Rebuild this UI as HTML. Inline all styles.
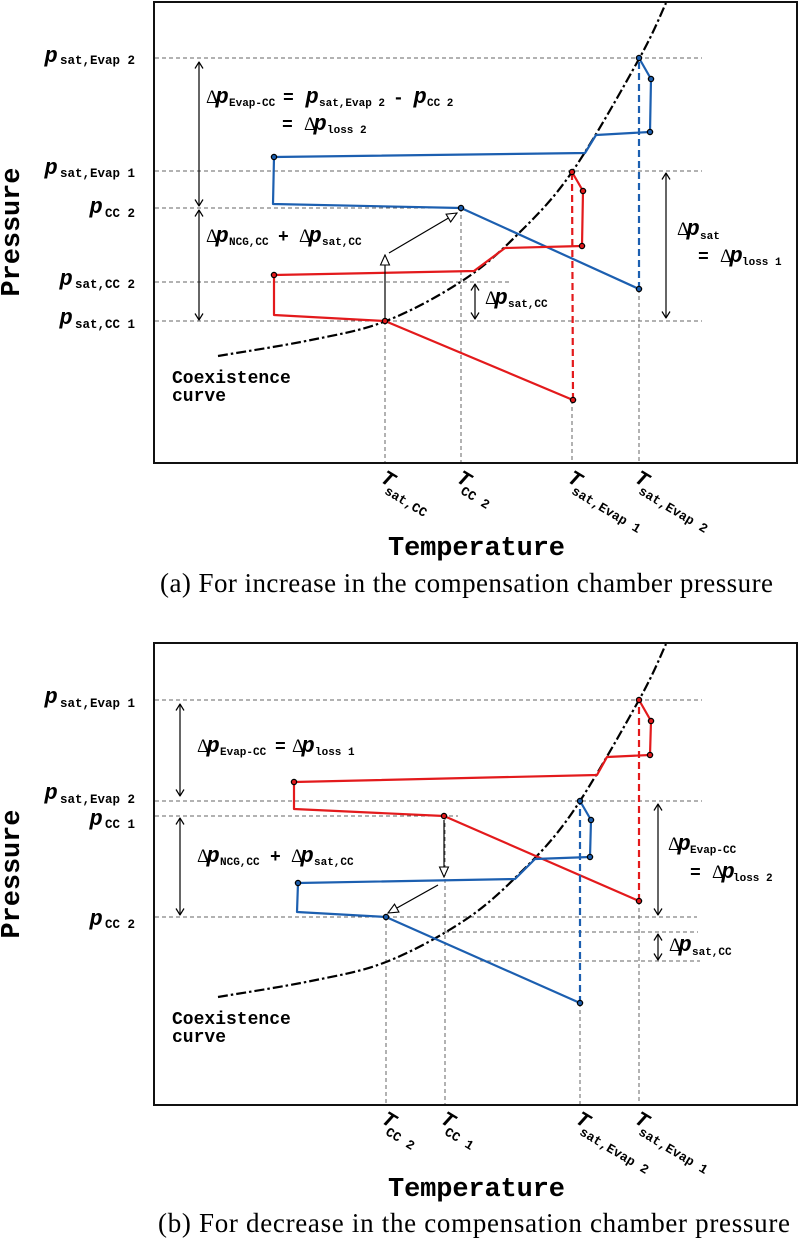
<!DOCTYPE html>
<html><head><meta charset="utf-8">
<style>
html,body{margin:0;padding:0;background:#fff;}
svg{display:block;}
.g{stroke:#666;stroke-width:1;stroke-dasharray:4 3;fill:none;}
.cv{stroke:#000;stroke-width:2.2;fill:none;stroke-dasharray:10 3 2.5 3;}
.r{stroke:#e31a1c;stroke-width:2.2;fill:none;stroke-linejoin:round;}
.b{stroke:#1c5fb0;stroke-width:2.2;fill:none;stroke-linejoin:round;}
.rd{stroke:#e31a1c;stroke-width:2.2;stroke-dasharray:7 4;}
.bd{stroke:#1c5fb0;stroke-width:2.2;stroke-dasharray:7 4;}
.dr{fill:#e31a1c;stroke:#000;stroke-width:1.3;}
.db{fill:#1c5fb0;stroke:#000;stroke-width:1.3;}
.ar{stroke:#000;stroke-width:1.2;fill:none;}
.d{font-family:"Liberation Serif",serif;font-size:19px;}
.p{font-family:"Liberation Mono",monospace;font-weight:bold;font-style:italic;font-size:22px;}
.s{font-family:"Liberation Mono",monospace;font-weight:bold;font-size:11px;}
.ls{font-family:"Liberation Mono",monospace;font-weight:bold;font-size:12.5px;}
.o{font-family:"Liberation Mono",monospace;font-weight:bold;font-size:18px;}
.T{font-family:"Liberation Mono",monospace;font-weight:bold;font-style:italic;font-size:21px;}
.ts{font-family:"Liberation Mono",monospace;font-weight:bold;font-size:13px;}
.ax{font-family:"Liberation Mono",monospace;font-weight:bold;font-size:27px;}
.co{font-family:"Liberation Mono",monospace;font-weight:bold;font-size:18px;}
.cap{font-family:"Liberation Serif",serif;font-size:27px;}
</style></head>
<body>
<svg width="800" height="1240" viewBox="0 0 800 1240" xmlns="http://www.w3.org/2000/svg">
<defs>
<marker id="ch" viewBox="0 0 10 10" refX="9.5" refY="5" markerWidth="10" markerHeight="10" markerUnits="userSpaceOnUse" orient="auto-start-reverse"><path d="M3,1 L9.5,5 L3,9" fill="none" stroke="#000" stroke-width="1.2"/></marker>
<marker id="tr" viewBox="0 0 12 12" refX="11" refY="6" markerWidth="12" markerHeight="12" markerUnits="userSpaceOnUse" orient="auto"><path d="M1,1.5 L11,6 L1,10.5 Z" fill="#fff" stroke="#000" stroke-width="1.1"/></marker>
<path id="curve" d="M218,356 C233.5,353.3 283,345.8 311,340 C339,334.2 360.8,330.8 386,321 C411.2,311.2 440.2,295.3 462,281 C483.8,266.7 498.7,253.2 517,235 C535.3,216.8 551.7,201.3 572,172 C592.3,142.7 623.3,87.2 639,59 C654.7,30.8 661.5,12.3 666,3"/>
</defs>

<!-- ================= TOP CHART ================= -->
<rect x="154" y="2" width="643" height="461" fill="none" stroke="#111" stroke-width="2"/>
<line class="g" x1="155" y1="58" x2="702" y2="58"/>
<line class="g" x1="155" y1="171" x2="702" y2="171"/>
<line class="g" x1="155" y1="208" x2="461" y2="208"/>
<line class="g" x1="155" y1="282" x2="512" y2="282"/>
<line class="g" x1="155" y1="321" x2="702" y2="321"/>
<line class="g" x1="385" y1="321" x2="385" y2="462"/>
<line class="g" x1="461" y1="208" x2="461" y2="462"/>
<line class="g" x1="572" y1="400" x2="572" y2="462"/>
<line class="g" x1="639" y1="289" x2="639" y2="462"/>

<use href="#curve" class="cv"/>

<polyline class="b" points="639,58 651,79 650,132 596,135 585,153 274,157 273,204 461,208 639,289"/>
<line class="bd" x1="639" y1="289" x2="639" y2="58"/>
<polyline class="r" points="572,172 583,191 582,246 505,248 474,271 274,275 274,315 385,321 573,400"/>
<line class="rd" x1="573" y1="400" x2="572" y2="172"/>

<g class="db">
<circle cx="639" cy="58" r="2.6"/><circle cx="651" cy="79" r="2.6"/><circle cx="650" cy="132" r="2.6"/>
<circle cx="274" cy="157" r="2.6"/><circle cx="461" cy="208" r="2.6"/><circle cx="639" cy="289" r="2.6"/>
</g>
<g class="dr">
<circle cx="572" cy="172" r="2.6"/><circle cx="583" cy="191" r="2.6"/><circle cx="582" cy="246" r="2.6"/>
<circle cx="274" cy="275" r="2.6"/><circle cx="385" cy="321" r="2.6"/><circle cx="573" cy="400" r="2.6"/>
</g>

<line class="ar" x1="199" y1="62" x2="199" y2="206" marker-start="url(#ch)" marker-end="url(#ch)"/>
<line class="ar" x1="199" y1="210" x2="199" y2="320" marker-start="url(#ch)" marker-end="url(#ch)"/>
<line class="ar" x1="666" y1="173" x2="666" y2="318" marker-start="url(#ch)" marker-end="url(#ch)"/>
<line class="ar" x1="475" y1="284" x2="475" y2="319" marker-start="url(#ch)" marker-end="url(#ch)"/>
<line class="ar" x1="385" y1="319" x2="385" y2="255" marker-end="url(#tr)"/>
<line class="ar" x1="389" y1="253" x2="457" y2="213" marker-end="url(#tr)"/>

<!-- annotations top -->
<text class="d" x="206" y="103">Δ</text><text class="p" x="215.5" y="103">p</text><text class="s" x="229" y="106">Evap-CC</text>
<text class="o" x="283" y="103">=</text>
<text class="p" x="305.5" y="103">p</text><text class="s" x="319" y="106">sat,Evap 2</text>
<text class="o" x="393" y="103">-</text>
<text class="p" x="413.5" y="103">p</text><text class="s" x="427" y="106">CC 2</text>

<text class="o" x="282" y="130">=</text>
<text class="d" x="304" y="130">Δ</text><text class="p" x="313.5" y="130">p</text><text class="s" x="327" y="133">loss 2</text>

<text class="d" x="206" y="242">Δ</text><text class="p" x="215.5" y="242">p</text><text class="s" x="229" y="245">NCG,CC</text>
<text class="o" x="278" y="242">+</text>
<text class="d" x="299" y="242">Δ</text><text class="p" x="308.5" y="242">p</text><text class="s" x="322" y="245">sat,CC</text>

<text class="d" x="677" y="235">Δ</text><text class="p" x="686.5" y="235">p</text><text class="s" x="700" y="239">sat</text>
<text class="o" x="698" y="262">=</text>
<text class="d" x="720" y="262">Δ</text><text class="p" x="729.5" y="262">p</text><text class="s" x="742" y="265">loss 1</text>

<text class="d" x="485" y="304">Δ</text><text class="p" x="494.5" y="304">p</text><text class="s" x="508" y="307">sat,CC</text>

<!-- y labels top -->
<text class="p" x="44.5" y="62">p</text><text class="ls" x="135" y="64" text-anchor="end">sat,Evap 2</text>
<text class="p" x="44.5" y="174">p</text><text class="ls" x="135" y="177" text-anchor="end">sat,Evap 1</text>
<text class="p" x="89.5" y="213">p</text><text class="ls" x="135" y="217" text-anchor="end">CC 2</text>
<text class="p" x="59.5" y="285">p</text><text class="ls" x="135" y="288" text-anchor="end">sat,CC 2</text>
<text class="p" x="59.5" y="324">p</text><text class="ls" x="135" y="328" text-anchor="end">sat,CC 1</text>

<text class="co" x="172" y="383">Coexistence</text>
<text class="co" x="172" y="401">curve</text>

<!-- T labels top -->
<g transform="translate(386,470) rotate(31)"><text class="T" x="0" y="13">T</text><text class="ts" x="10" y="21">sat,CC</text></g>
<g transform="translate(462,470) rotate(31)"><text class="T" x="0" y="13">T</text><text class="ts" x="10" y="21">CC 2</text></g>
<g transform="translate(573,470) rotate(31)"><text class="T" x="0" y="13">T</text><text class="ts" x="10" y="21">sat,Evap 1</text></g>
<g transform="translate(640,470) rotate(31)"><text class="T" x="0" y="13">T</text><text class="ts" x="10" y="21">sat,Evap 2</text></g>

<text class="ax" transform="translate(19,232) rotate(-90)" text-anchor="middle" textLength="129">Pressure</text>
<text class="ax" x="476.5" y="555" text-anchor="middle" textLength="177">Temperature</text>
<text class="cap" x="160" y="592" textLength="613">(a) For increase in the compensation chamber pressure</text>

<!-- ================= BOTTOM CHART ================= -->
<rect x="154" y="643" width="643" height="462" fill="none" stroke="#111" stroke-width="2"/>
<line class="g" x1="155" y1="700" x2="702" y2="700"/>
<line class="g" x1="155" y1="801" x2="702" y2="801"/>
<line class="g" x1="155" y1="816" x2="458" y2="816"/>
<line class="g" x1="155" y1="917" x2="697" y2="917"/>
<line class="g" x1="445" y1="932" x2="698" y2="932"/>
<line class="g" x1="396" y1="961" x2="700" y2="961"/>
<line class="g" x1="386" y1="917" x2="386" y2="1104"/>
<line class="g" x1="445" y1="816" x2="445" y2="1104"/>
<line class="g" x1="580" y1="1003" x2="580" y2="1104"/>
<line class="g" x1="639" y1="901" x2="639" y2="1104"/>

<use href="#curve" class="cv" transform="translate(0,641)"/>

<polyline class="r" points="639,700 651,721 650,755 607,757 597,775 294,782 294,809 444,816 639,901"/>
<line class="rd" x1="639" y1="901" x2="639" y2="700"/>
<polyline class="b" points="580,801 591,820 590,857 535,859 515,879 298,883 297,912 386,917 580,1003"/>
<line class="bd" x1="580" y1="1003" x2="580" y2="801"/>

<g class="dr">
<circle cx="639" cy="700" r="2.6"/><circle cx="651" cy="721" r="2.6"/><circle cx="650" cy="755" r="2.6"/>
<circle cx="294" cy="782" r="2.6"/><circle cx="444" cy="816" r="2.6"/><circle cx="639" cy="901" r="2.6"/>
</g>
<g class="db">
<circle cx="580" cy="801" r="2.6"/><circle cx="591" cy="820" r="2.6"/><circle cx="590" cy="857" r="2.6"/>
<circle cx="298" cy="883" r="2.6"/><circle cx="386" cy="917" r="2.6"/><circle cx="580" cy="1003" r="2.6"/>
</g>

<line class="ar" x1="180" y1="704" x2="180" y2="796" marker-start="url(#ch)" marker-end="url(#ch)"/>
<line class="ar" x1="180" y1="818" x2="180" y2="915" marker-start="url(#ch)" marker-end="url(#ch)"/>
<line class="ar" x1="658" y1="804" x2="658" y2="915" marker-start="url(#ch)" marker-end="url(#ch)"/>
<line class="ar" x1="658" y1="934" x2="658" y2="960" marker-start="url(#ch)" marker-end="url(#ch)"/>
<line class="ar" x1="444" y1="820" x2="444" y2="877" marker-end="url(#tr)"/>
<line class="ar" x1="438" y1="885" x2="388" y2="913" marker-end="url(#tr)"/>

<!-- annotations bottom -->
<text class="d" x="197" y="752">Δ</text><text class="p" x="206.5" y="752">p</text><text class="s" x="220" y="755">Evap-CC</text>
<text class="o" x="275" y="752">=</text>
<text class="d" x="292" y="752">Δ</text><text class="p" x="301.5" y="752">p</text><text class="s" x="315" y="755">loss 1</text>

<text class="d" x="197" y="862">Δ</text><text class="p" x="206.5" y="862">p</text><text class="s" x="220" y="865">NCG,CC</text>
<text class="o" x="270" y="862">+</text>
<text class="d" x="291" y="862">Δ</text><text class="p" x="300.5" y="862">p</text><text class="s" x="314" y="865">sat,CC</text>

<text class="d" x="668" y="850">Δ</text><text class="p" x="677.5" y="850">p</text><text class="s" x="690" y="853">Evap-CC</text>
<text class="o" x="690" y="878">=</text>
<text class="d" x="712" y="878">Δ</text><text class="p" x="721.5" y="878">p</text><text class="s" x="733" y="881">loss 2</text>

<text class="d" x="669" y="951">Δ</text><text class="p" x="678.5" y="951">p</text><text class="s" x="692" y="955">sat,CC</text>

<!-- y labels bottom -->
<text class="p" x="44.5" y="703">p</text><text class="ls" x="135" y="707" text-anchor="end">sat,Evap 1</text>
<text class="p" x="44.5" y="799">p</text><text class="ls" x="135" y="803" text-anchor="end">sat,Evap 2</text>
<text class="p" x="89.5" y="825">p</text><text class="ls" x="135" y="828" text-anchor="end">CC 1</text>
<text class="p" x="89.5" y="925">p</text><text class="ls" x="135" y="928" text-anchor="end">CC 2</text>

<text class="co" x="172" y="1024">Coexistence</text>
<text class="co" x="172" y="1042">curve</text>

<!-- T labels bottom -->
<g transform="translate(387,1111) rotate(31)"><text class="T" x="0" y="13">T</text><text class="ts" x="10" y="21">CC 2</text></g>
<g transform="translate(446,1111) rotate(31)"><text class="T" x="0" y="13">T</text><text class="ts" x="10" y="21">CC 1</text></g>
<g transform="translate(581,1111) rotate(31)"><text class="T" x="0" y="13">T</text><text class="ts" x="10" y="21">sat,Evap 2</text></g>
<g transform="translate(640,1111) rotate(31)"><text class="T" x="0" y="13">T</text><text class="ts" x="10" y="21">sat,Evap 1</text></g>

<text class="ax" transform="translate(19,874) rotate(-90)" text-anchor="middle" textLength="129">Pressure</text>
<text class="ax" x="476.5" y="1196" text-anchor="middle" textLength="177">Temperature</text>
<text class="cap" x="158" y="1232" textLength="632">(b) For decrease in the compensation chamber pressure</text>
</svg>
</body></html>
